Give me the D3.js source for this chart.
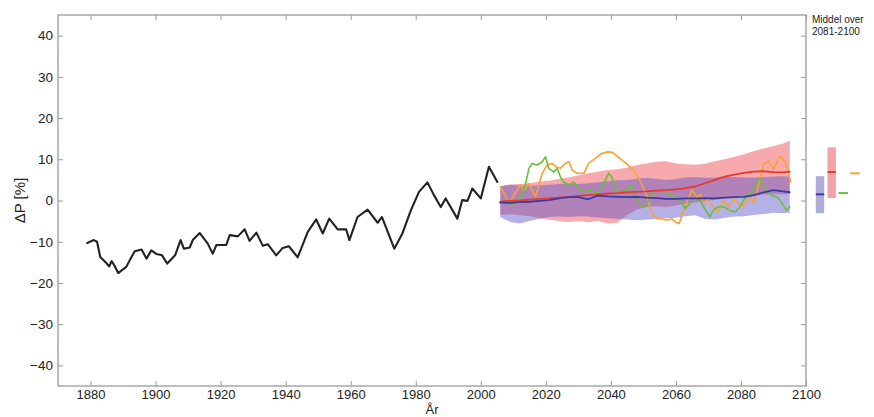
<!DOCTYPE html>
<html>
<head>
<meta charset="utf-8">
<script src="https://cdn.jsdelivr.net/npm/d3@7"></script>
<style>
  html, body { margin: 0; padding: 0; background: #fff; }
  svg { display: block; font-family: "Liberation Sans", Arial, sans-serif; }
</style>
</head>
<body>
<svg id="chart" width="874" height="417"></svg>
<script>
// ---------- data ----------
const histYears = [1879, 1881, 1882, 1883, 1885, 1885.7, 1886.5, 1887.3, 1888.5, 1891, 1892.6, 1893.6, 1895.7, 1897.2, 1898.7, 1900.3, 1902, 1903.6, 1906, 1907.7, 1908.7, 1910.5, 1911.5, 1913.6, 1916, 1917.6, 1918.7, 1921.7, 1922.8, 1925.3, 1927.4, 1928.9, 1931, 1933, 1934.5, 1937.1, 1939.1, 1941, 1943.7, 1946.8, 1949.4, 1951.4, 1953.4, 1956, 1958.6, 1959.6, 1962.1, 1965.2, 1968.3, 1969.6, 1973.4, 1975.9, 1978.5, 1981, 1983.6, 1985.6, 1987.7, 1989.2, 1992.8, 1994.3, 1995.9, 1997.4, 2000, 2002.5, 2005.1];
const histValues = [-10.3, -9.6, -10.0, -13.7, -15.3, -16.0, -14.7, -15.7, -17.6, -16.1, -13.7, -12.3, -11.9, -14.1, -12.1, -13.0, -13.3, -15.3, -13.3, -9.6, -11.7, -11.4, -9.5, -7.9, -10.4, -12.9, -10.8, -10.8, -8.4, -8.7, -7.0, -9.8, -7.8, -11.0, -10.6, -13.3, -11.5, -11.1, -13.8, -7.6, -4.6, -8.0, -4.4, -7.0, -7.0, -9.6, -4.0, -2.2, -5.4, -4.0, -11.7, -8.0, -2.4, 2.1, 4.4, 1.3, -1.6, 0.5, -4.4, 0.1, -0.1, 2.9, 0.5, 8.2, 4.5];

const projYears = [2006, 2009, 2012, 2015, 2018, 2021, 2024, 2027, 2030, 2033, 2036, 2039, 2042, 2045, 2048, 2051, 2054, 2057, 2060, 2063, 2066, 2069, 2072, 2075, 2078, 2081, 2084, 2087, 2090, 2093, 2095];
const redHigh  = [3.5, 3.9, 4.0, 4.2, 4.6, 4.8, 5.2, 5.6, 6.1, 6.6, 7.0, 7.4, 7.6, 8.0, 8.6, 9.0, 9.4, 9.5, 9.0, 8.8, 8.7, 9.0, 9.5, 10.0, 10.6, 11.2, 12.0, 12.6, 13.2, 13.8, 14.5];
const redLow   = [-3.5, -3.3, -3.6, -3.8, -4.3, -4.6, -5.0, -5.2, -5.0, -5.3, -5.0, -5.6, -5.4, -3.5, -2.2, -1.6, -1.4, -1.6, -1.2, -0.8, -0.4, -0.2, 0.2, 0.5, 0.9, 1.1, 1.3, 1.4, 1.6, 1.5, 1.6];
const blueHigh = [3.4, 3.8, 3.6, 3.5, 3.7, 3.8, 4.0, 4.1, 4.0, 4.2, 4.4, 4.7, 4.9, 5.0, 5.3, 5.5, 5.3, 5.0, 5.2, 5.6, 5.7, 5.5, 5.6, 5.8, 5.7, 5.6, 5.5, 5.7, 5.8, 5.9, 5.7];
const blueLow  = [-4.0, -5.2, -5.6, -5.0, -4.4, -4.0, -3.9, -4.0, -3.8, -3.9, -4.1, -4.3, -4.4, -4.6, -4.8, -4.6, -4.5, -4.3, -4.2, -3.8, -3.6, -4.5, -4.6, -4.2, -3.9, -3.8, -3.5, -3.3, -3.0, -3.1, -3.0];
const redMean  = [-0.3, -0.1, 0.0, 0.2, 0.4, 0.5, 0.7, 0.9, 1.1, 1.3, 1.5, 1.7, 1.8, 2.0, 2.1, 2.2, 2.4, 2.5, 2.7, 3.0, 3.4, 4.2, 5.0, 5.8, 6.3, 6.7, 7.0, 7.1, 6.9, 6.8, 7.0];
const blueMean = [-0.5, -0.6, -0.4, -0.3, -0.1, 0.1, 0.5, 0.8, 0.8, 0.3, 1.2, 1.0, 0.9, 0.8, 0.9, 0.7, 0.6, 0.4, 0.4, 0.5, 0.5, 0.6, 0.5, 0.7, 0.8, 0.9, 1.3, 2.0, 2.5, 2.2, 2.0];

const greenYears = [2006.1, 2008.1, 2009.7, 2011.2, 2012.7, 2013.8, 2014.8, 2015.8, 2017.3, 2018.9, 2019.9, 2020.9, 2022.5, 2023.5, 2024.5, 2025.5, 2027.1, 2028.6, 2030.1, 2031.7, 2033.2, 2034.7, 2036.3, 2037.8, 2039.3, 2040.3, 2041.4, 2042.4, 2043.4, 2044.4, 2045.5, 2046.5, 2047.5, 2049, 2050.6, 2051.6, 2052.6, 2054.1, 2055.7, 2056.7, 2057.7, 2059.8, 2061.8, 2062.9, 2063.9, 2065.4, 2067.4, 2069.5, 2070.5, 2071.5, 2073, 2074.6, 2076.6, 2078.2, 2079.7, 2081.2, 2083.3, 2084.8, 2085.9, 2086.9, 2087.9, 2089.4, 2091, 2092, 2094, 2095];
const greenValues = [-0.7, 0.1, -1.1, 0.1, 1.3, 4.1, 7.8, 9.0, 8.6, 9.4, 10.6, 7.8, 6.9, 7.8, 5.7, 4.5, 3.7, 4.5, 2.9, 2.1, 2.5, 2.1, 2.1, 4.1, 6.6, 5.7, 2.5, 1.7, 2.5, 2.1, 3.3, 3.7, 0.9, -1.1, -1.5, 0.1, 1.7, 2.5, 2.1, 2.5, 1.7, 0.9, -0.7, -1.9, -1.1, 0.5, 0.1, -2.8, -4.0, -2.4, -1.5, -1.5, -2.4, -2.8, -1.5, 0.5, 2.1, 4.1, 5.3, 3.7, 2.1, 1.3, 0.9, 0.1, -2.4, -1.5];

const orangeYears = [2006, 2007, 2008.7, 2010.5, 2012.2, 2013.3, 2014.8, 2016.8, 2018.9, 2020.4, 2021.9, 2023, 2024.5, 2026, 2027.1, 2028.1, 2029.6, 2031.7, 2033.2, 2035.2, 2037.2, 2039, 2040.5, 2042.2, 2043.7, 2045.3, 2046.6, 2047.8, 2049.2, 2050.6, 2051.6, 2052.6, 2054.1, 2055.7, 2057.2, 2058.7, 2059.8, 2061, 2062.3, 2063.5, 2065, 2066.5, 2067.5, 2068.7, 2069.8, 2071.3, 2073, 2074.6, 2076.2, 2077.7, 2079.3, 2081, 2082.5, 2084, 2085.5, 2087, 2088.4, 2090, 2092, 2093.5, 2094.5, 2095.3];
const orangeValues = [3.3, 2.0, -0.7, 1.7, 3.7, 2.5, 4.1, 0.9, 6.6, 8.6, 9.0, 8.2, 7.8, 9.0, 9.4, 7.4, 6.6, 6.6, 9.0, 10.2, 11.4, 11.8, 11.7, 10.6, 9.6, 8.6, 7.6, 6.4, 4.5, 2.0, -0.3, -3.0, -4.4, -4.4, -4.8, -4.4, -5.2, -5.6, -2.6, 0.0, 2.5, 0.8, 1.5, -0.5, 0.5, -1.3, -2.7, 0.0, -1.6, 0.4, -0.8, -1.4, 1.0, -0.4, 4.0, 8.8, 9.6, 7.6, 10.8, 9.4, 7.2, 4.5];

// summary of 2081-2100 means (right of the plot)
const summaryNames = ["blue", "red", "green", "orange"];
const summaryMean  = [1.5, 6.9, 1.8, 6.6];
const summaryLow   = [-3.1, 0.6, null, null];
const summaryHigh  = [5.9, 12.9, null, null];

const xTicks = [1880, 1900, 1920, 1940, 1960, 1980, 2000, 2020, 2040, 2060, 2080, 2100];
const yTicks = [-40, -30, -20, -10, 0, 10, 20, 30, 40];
const yLabel = "ΔP [%]";
const xLabel = "År";
const noteLines = ["Middel over", "2081-2100"];

// ---------- styles ----------
const col = {
  black: "#222222",
  red: "#e6392f", blue: "#3b3a9e", green: "#69be3a", orange: "#f7a233",
  redFill: "rgba(240,85,92,0.5)", blueFill: "rgba(92,82,200,0.45)",
  redBar: "#f3a4a8", blueBar: "#aeadda",
  axis: "#9a9a9a", text: "#222"
};

// ---------- scales ----------
const svg = d3.select("#chart");
const L = 58, R = 806, T = 15, B = 386;
const x = d3.scaleLinear().domain([1870, 2100]).range([L, R]);
const y = d3.scaleLinear().domain([-45, 45]).range([B, T]);

// ---------- bands ----------
const proj = projYears.map((yr, i) => ({yr, rH: redHigh[i], rL: redLow[i], bH: blueHigh[i], bL: blueLow[i]}));
const area = (hi, lo) => d3.area().x(d => x(d.yr)).y0(d => y(d[lo])).y1(d => y(d[hi]));
svg.append("path").datum(proj).attr("d", area("rH", "rL")).attr("fill", col.redFill);
svg.append("path").datum(proj).attr("d", area("bH", "bL")).attr("fill", col.blueFill);

// ---------- lines ----------
const line = d3.line().x(d => x(d[0])).y(d => y(d[1]));
function drawLine(xs, vs, color, w) {
  svg.append("path").datum(xs.map((v, i) => [v, vs[i]]))
    .attr("d", line).attr("fill", "none").attr("stroke", color)
    .attr("stroke-width", w).attr("stroke-linejoin", "round").attr("stroke-linecap", "round");
}
drawLine(orangeYears, orangeValues, col.orange, 1.6);
drawLine(greenYears, greenValues, col.green, 1.6);
drawLine(projYears, redMean, col.red, 1.8);
drawLine(projYears, blueMean, col.blue, 1.8);
drawLine(histYears, histValues, col.black, 2.1);

// ---------- axes ----------
const gL = svg.append("g").attr("transform", `translate(${L},0)`)
  .call(d3.axisLeft(y).tickValues(yTicks).tickSize(-5).tickPadding(5).tickSizeOuter(0));
const gR = svg.append("g").attr("transform", `translate(${R},0)`)
  .call(d3.axisRight(y).tickValues(yTicks).tickSize(-5).tickFormat("").tickSizeOuter(0));
const gB = svg.append("g").attr("transform", `translate(0,${B})`)
  .call(d3.axisBottom(x).tickValues(xTicks).tickFormat(d3.format("d")).tickSize(-5).tickPadding(4).tickSizeOuter(0));
const gT = svg.append("g").attr("transform", `translate(0,${T})`)
  .call(d3.axisTop(x).tickValues(xTicks).tickSize(-5).tickFormat("").tickSizeOuter(0));
[gL, gR, gB, gT].forEach(g => {
  g.select(".domain").remove();
  g.selectAll(".tick line").attr("stroke", col.axis).attr("stroke-width", 1);
  g.selectAll(".tick text").attr("fill", col.text).style("font-size", "13.5px")
    .style("font-family", "'Liberation Sans', Arial, sans-serif");
});
gB.selectAll(".tick text").style("font-size", "13px");
svg.append("rect").attr("x", L).attr("y", T).attr("width", R - L).attr("height", B - T)
  .attr("fill", "none").attr("stroke", col.axis).attr("stroke-width", 1.3);

// axis titles
svg.append("text").attr("transform", `translate(25,${(T + B) / 2}) rotate(-90)`)
  .attr("text-anchor", "middle").attr("fill", col.text).style("font-size", "15px").text(yLabel);
svg.append("text").attr("x", (L + R) / 2).attr("y", 413.5)
  .attr("text-anchor", "middle").attr("fill", col.text).style("font-size", "13px").text(xLabel);

// ---------- 2081-2100 summary ----------
const sx = d3.scalePoint().domain(summaryNames).range([820, 855]);
const fills = {blue: col.blueBar, red: col.redBar};
const strokes = {blue: col.blue, red: col.red, green: col.green, orange: col.orange};
summaryNames.forEach((n, i) => {
  const cx = sx(n);
  if (summaryLow[i] !== null) {
    svg.append("rect").attr("x", cx - 4.2).attr("width", 8.4)
      .attr("y", y(summaryHigh[i])).attr("height", y(summaryLow[i]) - y(summaryHigh[i]))
      .attr("fill", fills[n]);
    svg.append("line").attr("x1", cx - 4.2).attr("x2", cx + 4.2)
      .attr("y1", y(summaryMean[i])).attr("y2", y(summaryMean[i]))
      .attr("stroke", strokes[n]).attr("stroke-width", 2);
  } else {
    svg.append("line").attr("x1", cx - 4.8).attr("x2", cx + 4.8)
      .attr("y1", y(summaryMean[i])).attr("y2", y(summaryMean[i]))
      .attr("stroke", strokes[n]).attr("stroke-width", 2);
  }
});
svg.selectAll("text.note").data(noteLines).enter().append("text").attr("class", "note")
  .attr("x", 812).attr("y", (d, i) => 23 + i * 12)
  .attr("fill", col.text).style("font-size", "10px").text(d => d);
</script>
</body>
</html>
